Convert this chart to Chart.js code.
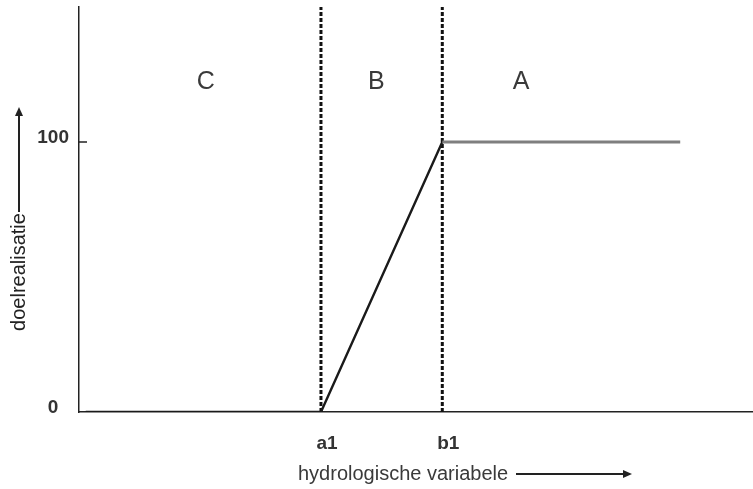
<!DOCTYPE html>
<html>
<head>
<meta charset="utf-8">
<script src="https://cdn.jsdelivr.net/npm/chart.js@4.4.1/dist/chart.umd.min.js"></script>
<style>
  html, body { margin: 0; padding: 0; background: #fff; }
  #wrap { width: 753px; height: 489px; }
</style>
</head>
<body>
<div id="wrap"><canvas id="chart" width="753" height="489"></canvas></div>
<script>
// response curve (x in arbitrary units of the hydrological variable, y = doelrealisatie %)
const curveX = [1, 35.9, 53.9, 89.2];
const curveY = [0, 0, 100, 100];

// class boundaries a1 / b1
const boundaryX = [35.9, 53.9];
const boundaryLabels = ['a1', 'b1'];

// zones between the boundaries
const zoneLabels = ['C', 'B', 'A'];
const zoneX = [18.8, 44.1, 65.6];
const zoneY = 122;

// y ticks
const yTickValues = [0, 100];
const yTickLabels = ['0', '100'];

const yMax = 150;
const xMax = 100;

const ctx = document.getElementById('chart').getContext('2d');

const extras = {
    id: 'extras',
    afterDatasetsDraw(chart) {
        const c = chart.ctx;
        const x = chart.scales.x, y = chart.scales.y;
        const area = chart.chartArea;
        c.save();

        // inward tick at 100
        c.strokeStyle = '#222';
        c.lineWidth = 1.5;
        const ty = y.getPixelForValue(100);
        c.beginPath();
        c.moveTo(area.left, ty);
        c.lineTo(area.left + 8, ty);
        c.stroke();

        // zone letters
        c.fillStyle = '#3a3a3a';
        c.font = '25px "Liberation Sans", Arial, sans-serif';
        c.textAlign = 'center';
        c.textBaseline = 'middle';
        zoneLabels.forEach((lab, i) => {
            c.fillText(lab, x.getPixelForValue(zoneX[i]), y.getPixelForValue(zoneY));
        });

        // x axis title with arrow
        c.font = '20px "Liberation Sans", Arial, sans-serif';
        c.textAlign = 'left';
        c.fillStyle = '#3a3a3a';
        const tx = area.left + 219, tyy = area.bottom + 62;
        c.fillText('hydrologische variabele', tx, tyy);
        drawArrow(c, 516, tyy, 632, tyy);

        // y axis title with arrow
        c.save();
        c.translate(19, 272);
        c.rotate(-Math.PI / 2);
        c.textAlign = 'center';
        c.fillText('doelrealisatie', 0, 0);
        c.restore();
        drawArrow(c, 19, 212, 19, 107);

        c.restore();
    }
};

function drawArrow(c, x1, y1, x2, y2) {
    const ang = Math.atan2(y2 - y1, x2 - x1);
    const head = 9, w = 4;
    c.strokeStyle = '#222';
    c.fillStyle = '#222';
    c.lineWidth = 2;
    c.beginPath();
    c.moveTo(x1, y1);
    c.lineTo(x2 - head * Math.cos(ang), y2 - head * Math.sin(ang));
    c.stroke();
    c.beginPath();
    c.moveTo(x2, y2);
    c.lineTo(x2 - head * Math.cos(ang) - w * Math.sin(ang), y2 - head * Math.sin(ang) + w * Math.cos(ang));
    c.lineTo(x2 - head * Math.cos(ang) + w * Math.sin(ang), y2 - head * Math.sin(ang) - w * Math.cos(ang));
    c.closePath();
    c.fill();
}

function noPad(s) {
    s.paddingTop = 0;
    s.paddingBottom = 0;
    s.paddingLeft = 0;
    s.paddingRight = 0;
}

const chart = new Chart(ctx, {
    type: 'scatter',
    data: {
        datasets: [
            {
                data: curveX.map((v, i) => ({ x: v, y: curveY[i] })),
                showLine: true,
                pointRadius: 0,
                borderWidth: 2.4,
                borderColor: '#1a1a1a',
                segment: {
                    borderColor: s => s.p0DataIndex >= 2 ? '#7f7f7f' : '#1a1a1a',
                    borderWidth: s => s.p0DataIndex >= 2 ? 2.8 : 2.4
                }
            },
            ...boundaryX.map(b => ({
                data: [{ x: b, y: 0 }, { x: b, y: yMax }],
                showLine: true,
                pointRadius: 0,
                borderWidth: 3,
                borderColor: '#111',
                borderDash: [4, 2]
            }))
        ]
    },
    options: {
        responsive: false,
        animation: false,
        layout: { padding: { top: 7, right: 0, left: 0, bottom: 0 } },
        plugins: { legend: { display: false }, tooltip: { enabled: false } },
        scales: {
            x: {
                type: 'linear',
                min: 0,
                max: xMax,
                grid: { display: false, drawTicks: false },
                border: { display: true, color: '#222', width: 1.5 },
                afterFit: s => { s.height = 77; noPad(s); },
                afterBuildTicks: s => { s.ticks = boundaryX.map(v => ({ value: v })); },
                ticks: {
                    padding: 20,
                    labelOffset: 6,
                    color: '#333',
                    font: { family: '"Liberation Sans", Arial, sans-serif', size: 19, weight: 'bold' },
                    callback: v => boundaryLabels[boundaryX.indexOf(v)]
                }
            },
            y: {
                type: 'linear',
                min: 0,
                max: yMax,
                grid: { display: false, drawTicks: false },
                border: { display: true, color: '#222', width: 1.5 },
                afterFit: s => { s.width = 79; noPad(s); },
                afterBuildTicks: s => { s.ticks = yTickValues.map(v => ({ value: v })); },
                ticks: {
                    padding: 10,
                    crossAlign: 'center',
                    labelOffset: -4,
                    color: '#333',
                    font: { family: '"Liberation Sans", Arial, sans-serif', size: 19, weight: 'bold' },
                    callback: v => yTickLabels[yTickValues.indexOf(v)]
                }
            }
        }
    },
    plugins: [extras]
});
</script>
</body>
</html>
